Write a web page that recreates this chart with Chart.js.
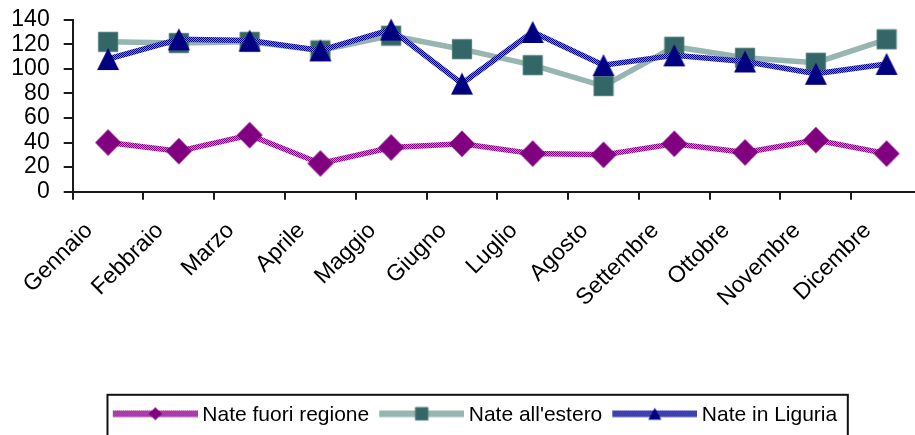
<!DOCTYPE html>
<html>
<head>
<meta charset="utf-8">
<script src="https://cdn.jsdelivr.net/npm/chart.js@4/dist/chart.umd.min.js"></script>
<style>
  html, body { margin: 0; padding: 0; overflow: hidden; background: #fff; }
  #wrap { width: 950px; height: 436px; }
</style>
</head>
<body>
<div id="wrap"><canvas id="chart" width="950" height="436"></canvas></div>
<script>
// Monthly births by mother's place of birth
const mesi = ['Gennaio', 'Febbraio', 'Marzo', 'Aprile', 'Maggio', 'Giugno',
              'Luglio', 'Agosto', 'Settembre', 'Ottobre', 'Novembre', 'Dicembre'];
const nateFuoriRegione = [40, 33, 46, 23, 36, 39, 31, 30, 39, 32, 42, 31];
const nateAllEstero    = [122, 121, 122, 115, 127, 116, 103, 86, 118, 109, 105, 124];
const nateInLiguria    = [108, 124, 123, 115, 132, 88, 130, 103, 111, 106, 96, 104];
const serieNomi = ['Nate fuori regione', "Nate all'estero", 'Nate in Liguria'];
const yMin = 0, yMax = 140, yStep = 20;

const FONT = { family: "'Liberation Sans', Arial, sans-serif", size: 21 };
const AXIS_FONT = { family: "'Liberation Sans', Arial, sans-serif", size: 23 };
const AXIS = '#1a1a1a';

// 1px checkerboard stroke, like a dithered line
function checker(g, c1, c2) {
  const p = document.createElement('canvas');
  p.width = 2; p.height = 2;
  const pg = p.getContext('2d');
  pg.fillStyle = c2; pg.fillRect(0, 0, 2, 2);
  pg.fillStyle = c1; pg.fillRect(0, 0, 1, 1); pg.fillRect(1, 1, 1, 1);
  return g.createPattern(p, 'repeat');
}

function drawShape(g, shape, cx, cy, w, h, fill, edge) {
  g.beginPath();
  if (shape === 'diamond') {
    g.moveTo(cx, cy - h / 2); g.lineTo(cx + w / 2, cy);
    g.lineTo(cx, cy + h / 2); g.lineTo(cx - w / 2, cy);
  } else if (shape === 'square') {
    g.rect(cx - w / 2, cy - h / 2, w, h);
  } else {
    g.moveTo(cx, cy - h / 2); g.lineTo(cx + w / 2, cy + h / 2); g.lineTo(cx - w / 2, cy + h / 2);
  }
  g.closePath();
  g.fillStyle = fill; g.fill();
  if (edge) { g.strokeStyle = edge; g.lineWidth = 1; g.stroke(); }
}

// point marker image, centred on the data point
function marker(shape, size, w, h, fill, edge) {
  const c = document.createElement('canvas');
  c.width = size; c.height = size;
  drawShape(c.getContext('2d'), shape, size / 2, size / 2, w, h, fill, edge);
  return c;
}

// legend sample: a short stroke with the series marker in the middle
function legendSample(stroke, shape, w, h, fill, edge) {
  const c = document.createElement('canvas');
  c.width = 91; c.height = 22;
  const g = c.getContext('2d');
  const cy = 9.3;
  g.fillStyle = stroke.length === 2 ? checker(g, stroke[0], stroke[1]) : stroke[0];
  g.fillRect(6, cy - 3.3, 85, 6.6);
  drawShape(g, shape, 6 + 42.5, cy, w, h, fill, edge);
  return c;
}

const canvas = document.getElementById('chart');
const ctx = canvas.getContext('2d');

const stili = [
  { stroke: ['#800080', '#d27ad2'], shape: 'diamond', fill: '#800080', edge: null,
    pt: marker('diamond', 28, 26, 26.5, '#800080'), lg: [13, 13] },
  { stroke: ['#97b5b1'], shape: 'square', fill: '#336666', edge: '#4f7c78',
    pt: marker('square', 22, 19.3, 19.3, '#336666', '#4f7c78'), lg: [12.6, 12.6] },
  { stroke: ['#000080', '#7c80e0'], shape: 'triangle', fill: '#000080', edge: null,
    pt: marker('triangle', 24, 22, 22, '#000080'), lg: [13, 12] }
];
const serieDati = [nateFuoriRegione, nateAllEstero, nateInLiguria];
const legendImgs = stili.map(s => legendSample(s.stroke, s.shape, s.lg[0], s.lg[1], s.fill, s.edge));

const datasets = serieNomi.map((nome, i) => ({
  label: nome,
  data: serieDati[i],
  borderColor: stili[i].stroke.length === 2 ? checker(ctx, stili[i].stroke[0], stili[i].stroke[1]) : stili[i].stroke[0],
  borderWidth: 5.5,
  tension: 0,
  fill: false,
  pointStyle: stili[i].pt,
  pointRadius: 12,
  pointHoverRadius: 12,
  clip: false,
  order: 2 - i
}));

// frame around the legend row
const legendFrame = {
  id: 'legendFrame',
  afterDraw(chart) {
    const hb = chart.legend && chart.legend.legendHitBoxes;
    if (!hb || !hb.length) return;
    const first = hb[0], last = hb[hb.length - 1];
    const l = first.left - 5.3;
    const r = last.left + last.width + 10.6;
    const t = first.top - 10.2;
    const b = chart.height + 4;
    const g = chart.ctx;
    g.save();
    g.strokeStyle = '#111';
    g.lineWidth = 2;
    g.strokeRect(l, t, r - l, b - t);
    g.restore();
  }
};

new Chart(canvas, {
  type: 'line',
  data: { labels: mesi, datasets },
  plugins: [legendFrame],
  options: {
    responsive: false,
    animation: false,
    events: [],
    layout: { padding: { top: 19.7, left: 0, right: 0, bottom: 0 } },
    plugins: {
      tooltip: { enabled: false },
      legend: {
        position: 'bottom',
        labels: {
          usePointStyle: true,
          pointStyleWidth: 79,
          padding: 10,
          font: FONT,
          color: '#000',
          generateLabels: (chart) => chart.data.datasets.map((ds, i) => ({
            text: ds.label,
            pointStyle: legendImgs[i],
            datasetIndex: i,
            hidden: false,
            fontColor: '#000',
            lineWidth: 0,
            strokeStyle: 'rgba(0,0,0,0)',
            fillStyle: 'rgba(0,0,0,0)'
          }))
        }
      }
    },
    scales: {
      x: {
        type: 'category',
        offset: true,
        grid: { offset: true, drawOnChartArea: false, tickLength: 8, color: AXIS, lineWidth: 2 },
        border: { display: true, color: AXIS, width: 2 },
        ticks: { autoSkip: false, minRotation: 45, maxRotation: 45, labelOffset: -19, padding: 17.5,
                 font: AXIS_FONT, color: '#000' },
        afterFit: (s) => { s.height = 203.3; }
      },
      y: {
        min: yMin, max: yMax,
        ticks: { stepSize: yStep, autoSkip: false, padding: 14, font: AXIS_FONT, color: '#000' },
        grid: { drawOnChartArea: false, tickLength: 9, color: AXIS, lineWidth: 2 },
        border: { display: true, color: AXIS, width: 2 },
        afterFit: (s) => { s.width = 72.7; s.paddingTop = 0; s.paddingBottom = 0; }
      },
      y2: {
        position: 'right',
        display: true,
        grid: { display: false },
        ticks: { display: false },
        border: { display: false },
        afterFit: (s) => { s.width = 28; }
      }
    }
  }
});
</script>
</body>
</html>
